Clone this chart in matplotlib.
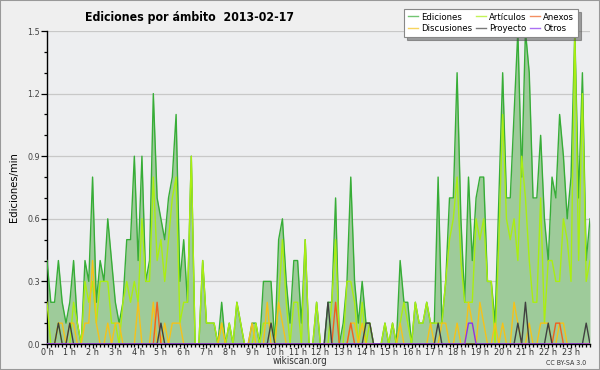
import numpy as np
import matplotlib
matplotlib.use("Agg")
import matplotlib.pyplot as plt
from matplotlib.patches import Rectangle
from matplotlib.ticker import MultipleLocator, FixedLocator

plt.rcParams["font.family"] = ["DejaVu Sans"]
plt.rcParams["font.stretch"] = "condensed"

title = "Ediciones por ámbito  2013-02-17"
hour_labels = [f"{h} h" for h in range(24)]

ediciones = [0.4, 0.2, 0.2, 0.4, 0.2, 0.1, 0.2, 0.4, 0.1, 0.0, 0.4, 0.3,
             0.8, 0.2, 0.4, 0.3, 0.6, 0.4, 0.2, 0.1, 0.2, 0.5, 0.5, 0.9,
             0.4, 0.9, 0.3, 0.4, 1.2, 0.7, 0.6, 0.5, 0.7, 0.8, 1.1, 0.3,
             0.5, 0.2, 0.9, 0.0, 0.0, 0.4, 0.1, 0.1, 0.1, 0.0, 0.2, 0.0,
             0.1, 0.0, 0.2, 0.1, 0.0, 0.0, 0.1, 0.1, 0.0, 0.3, 0.3, 0.3,
             0.0, 0.5, 0.6, 0.3, 0.1, 0.4, 0.4, 0.1, 0.5, 0.0, 0.0, 0.2,
             0.0, 0.0, 0.2, 0.2, 0.7, 0.0, 0.1, 0.3, 0.8, 0.3, 0.1, 0.3,
             0.1, 0.1, 0.0, 0.0, 0.0, 0.1, 0.0, 0.1, 0.0, 0.4, 0.2, 0.2,
             0.0, 0.2, 0.1, 0.1, 0.2, 0.1, 0.1, 0.8, 0.1, 0.3, 0.7, 0.7,
             1.3, 0.6, 0.2, 0.8, 0.4, 0.7, 0.8, 0.8, 0.3, 0.3, 0.1, 0.7,
             1.3, 0.7, 0.7, 1.1, 1.5, 0.8, 1.5, 1.3, 0.7, 0.7, 1.0, 0.6,
             0.4, 0.8, 0.7, 1.1, 0.9, 0.6, 0.8, 1.5, 0.7, 1.3, 0.4, 0.6]

articulos = [0.2, 0.0, 0.0, 0.1, 0.0, 0.0, 0.0, 0.2, 0.1, 0.0, 0.3, 0.2,
             0.3, 0.1, 0.3, 0.3, 0.3, 0.1, 0.1, 0.0, 0.2, 0.3, 0.2, 0.3,
             0.2, 0.6, 0.3, 0.3, 0.8, 0.4, 0.5, 0.3, 0.5, 0.7, 0.8, 0.1,
             0.2, 0.2, 0.9, 0.0, 0.0, 0.4, 0.1, 0.1, 0.1, 0.0, 0.1, 0.0,
             0.1, 0.0, 0.2, 0.1, 0.0, 0.0, 0.0, 0.1, 0.0, 0.1, 0.1, 0.1,
             0.0, 0.2, 0.5, 0.2, 0.0, 0.2, 0.2, 0.0, 0.5, 0.0, 0.0, 0.2,
             0.0, 0.0, 0.0, 0.2, 0.5, 0.0, 0.0, 0.3, 0.3, 0.2, 0.0, 0.2,
             0.0, 0.1, 0.0, 0.0, 0.0, 0.1, 0.0, 0.1, 0.0, 0.1, 0.2, 0.1,
             0.0, 0.2, 0.1, 0.1, 0.2, 0.1, 0.1, 0.1, 0.1, 0.3, 0.5, 0.6,
             0.8, 0.4, 0.2, 0.2, 0.2, 0.6, 0.5, 0.6, 0.3, 0.3, 0.0, 0.5,
             1.1, 0.6, 0.5, 0.6, 0.4, 0.9, 0.7, 0.4, 0.2, 0.2, 0.7, 0.1,
             0.4, 0.4, 0.3, 0.3, 0.6, 0.5, 0.3, 1.5, 0.4, 1.2, 0.3, 0.4]

discusiones = [0.0, 0.0, 0.0, 0.1, 0.1, 0.0, 0.1, 0.1, 0.0, 0.0, 0.1, 0.1,
               0.4, 0.1, 0.0, 0.0, 0.1, 0.0, 0.1, 0.1, 0.0, 0.0, 0.0, 0.0,
               0.2, 0.0, 0.0, 0.0, 0.2, 0.0, 0.0, 0.1, 0.0, 0.1, 0.1, 0.1,
               0.0, 0.0, 0.0, 0.0, 0.0, 0.0, 0.0, 0.0, 0.0, 0.0, 0.1, 0.0,
               0.0, 0.0, 0.0, 0.0, 0.0, 0.0, 0.1, 0.0, 0.0, 0.0, 0.2, 0.0,
               0.0, 0.2, 0.1, 0.0, 0.0, 0.0, 0.0, 0.0, 0.0, 0.0, 0.0, 0.0,
               0.0, 0.0, 0.0, 0.0, 0.0, 0.0, 0.0, 0.0, 0.1, 0.1, 0.0, 0.1,
               0.0, 0.0, 0.0, 0.0, 0.0, 0.0, 0.0, 0.0, 0.0, 0.1, 0.0, 0.0,
               0.0, 0.0, 0.0, 0.0, 0.0, 0.1, 0.0, 0.0, 0.1, 0.1, 0.0, 0.0,
               0.1, 0.0, 0.0, 0.2, 0.1, 0.0, 0.2, 0.1, 0.0, 0.0, 0.1, 0.0,
               0.1, 0.0, 0.0, 0.2, 0.1, 0.0, 0.0, 0.1, 0.0, 0.0, 0.1, 0.1,
               0.1, 0.0, 0.0, 0.1, 0.1, 0.0, 0.0, 0.0, 0.0, 0.0, 0.0, 0.0]

anexos = [0.0] * 144
for k, v in [(29, 0.2), (76, 0.2), (80, 0.1), (134, 0.1), (135, 0.1)]:
    anexos[k] = v

proyecto = [0.0] * 144
for k, v in [(3, 0.1), (6, 0.1), (30, 0.1), (59, 0.1), (74, 0.2), (84, 0.1),
             (85, 0.1), (103, 0.1), (124, 0.1), (126, 0.2), (132, 0.1), (142, 0.1)]:
    proyecto[k] = v

otros = [0.0] * 144
for k, v in [(111, 0.1), (112, 0.1)]:
    otros[k] = v

t = np.arange(144) / 6.0

W, H = 600, 370
fig = plt.figure(figsize=(6, 3.7), dpi=100, facecolor="#efefef")
ax = fig.add_axes([47 / W, 1 - 344 / H, (590 - 47) / W, (344 - 31) / H])
ax.set_facecolor("#edeef0")

ax.fill_between(t, ediciones, 0, color="#9ecb9a", zorder=1, lw=0)
l_ed, = ax.plot(t, ediciones, color="#37ad37", lw=1.0, zorder=3, label="Ediciones")
l_ar, = ax.plot(t, articulos, color="#aaee11", lw=1.0, zorder=4, label="Artículos")
l_di, = ax.plot(t, discusiones, color="#f5c21a", lw=1.0, zorder=5, label="Discusiones")
l_an, = ax.plot(t, anexos, color="#f06020", lw=1.0, zorder=6, label="Anexos")
l_pr, = ax.plot(t, proyecto, color="#404040", lw=1.0, zorder=7, label="Proyecto")
l_ot, = ax.plot(t, otros, color="#8833ee", lw=1.0, zorder=8, label="Otros")

ax.set_xlim(0, 143 / 6)
ax.set_ylim(0, 1.5)
ax.yaxis.set_major_locator(MultipleLocator(0.3))
ax.yaxis.set_minor_locator(MultipleLocator(0.1))
ax.yaxis.set_major_formatter(matplotlib.ticker.FormatStrFormatter("%.1f"))
ax.xaxis.set_major_locator(FixedLocator(range(24)))
ax.set_xticklabels(hour_labels)
ax.xaxis.set_minor_locator(MultipleLocator(1 / 6))
ax.grid(axis="y", which="major", color="#c8c8c8", lw=0.9, zorder=0)
ax.set_axisbelow(True)
for s in ["top", "right"]:
    ax.spines[s].set_visible(False)
for s in ["left", "bottom"]:
    ax.spines[s].set_color("black")
    ax.spines[s].set_linewidth(1.0)
ax.tick_params(axis="y", which="major", labelsize=6.5, colors="black",
               labelcolor="#444444", length=4, width=0.9, pad=1)
ax.tick_params(axis="x", which="major", labelsize=6.5, colors="black",
               labelcolor="#333333", length=3, width=0.9, pad=0)
ax.tick_params(axis="both", which="minor", length=2.5, width=0.9, colors="black")

ax.set_ylabel("Ediciones/min", fontsize=8, color="black", labelpad=6)

fig.text(85 / W, 1 - 17 / H, title, fontsize=8.8, fontweight="bold",
         ha="left", va="center", color="black")
fig.text(300 / W, 1 - 361 / H, "wikiscan.org", fontsize=7, ha="center",
         va="center", color="#333333")
fig.text(586 / W, 1 - 363 / H, "CC BY-SA 3.0", fontsize=5, ha="right",
         va="center", color="#333333")

leg = ax.legend(handles=[l_ed, l_di, l_ar, l_pr, l_an, l_ot], ncol=3,
                loc="upper right", bbox_to_anchor=(578 / W, 1 - 9 / H),
                bbox_transform=fig.transFigure, fontsize=6.8, frameon=True,
                fancybox=False, shadow=True, handlelength=1.1,
                handletextpad=0.35, columnspacing=0.3, labelspacing=0.25,
                borderpad=0.4, borderaxespad=0)
leg.get_frame().set_edgecolor("#888888")
leg.get_frame().set_facecolor("white")
leg.get_frame().set_linewidth(0.8)
leg.set_zorder(20)
for line in leg.get_lines():
    line.set_alpha(0.7)

fig.patches.append(Rectangle((0, 0), 1, 1, transform=fig.transFigure,
                             fill=False, edgecolor="#999999", lw=1.5))

fig.savefig("out.png", dpi=100, facecolor=fig.get_facecolor())
